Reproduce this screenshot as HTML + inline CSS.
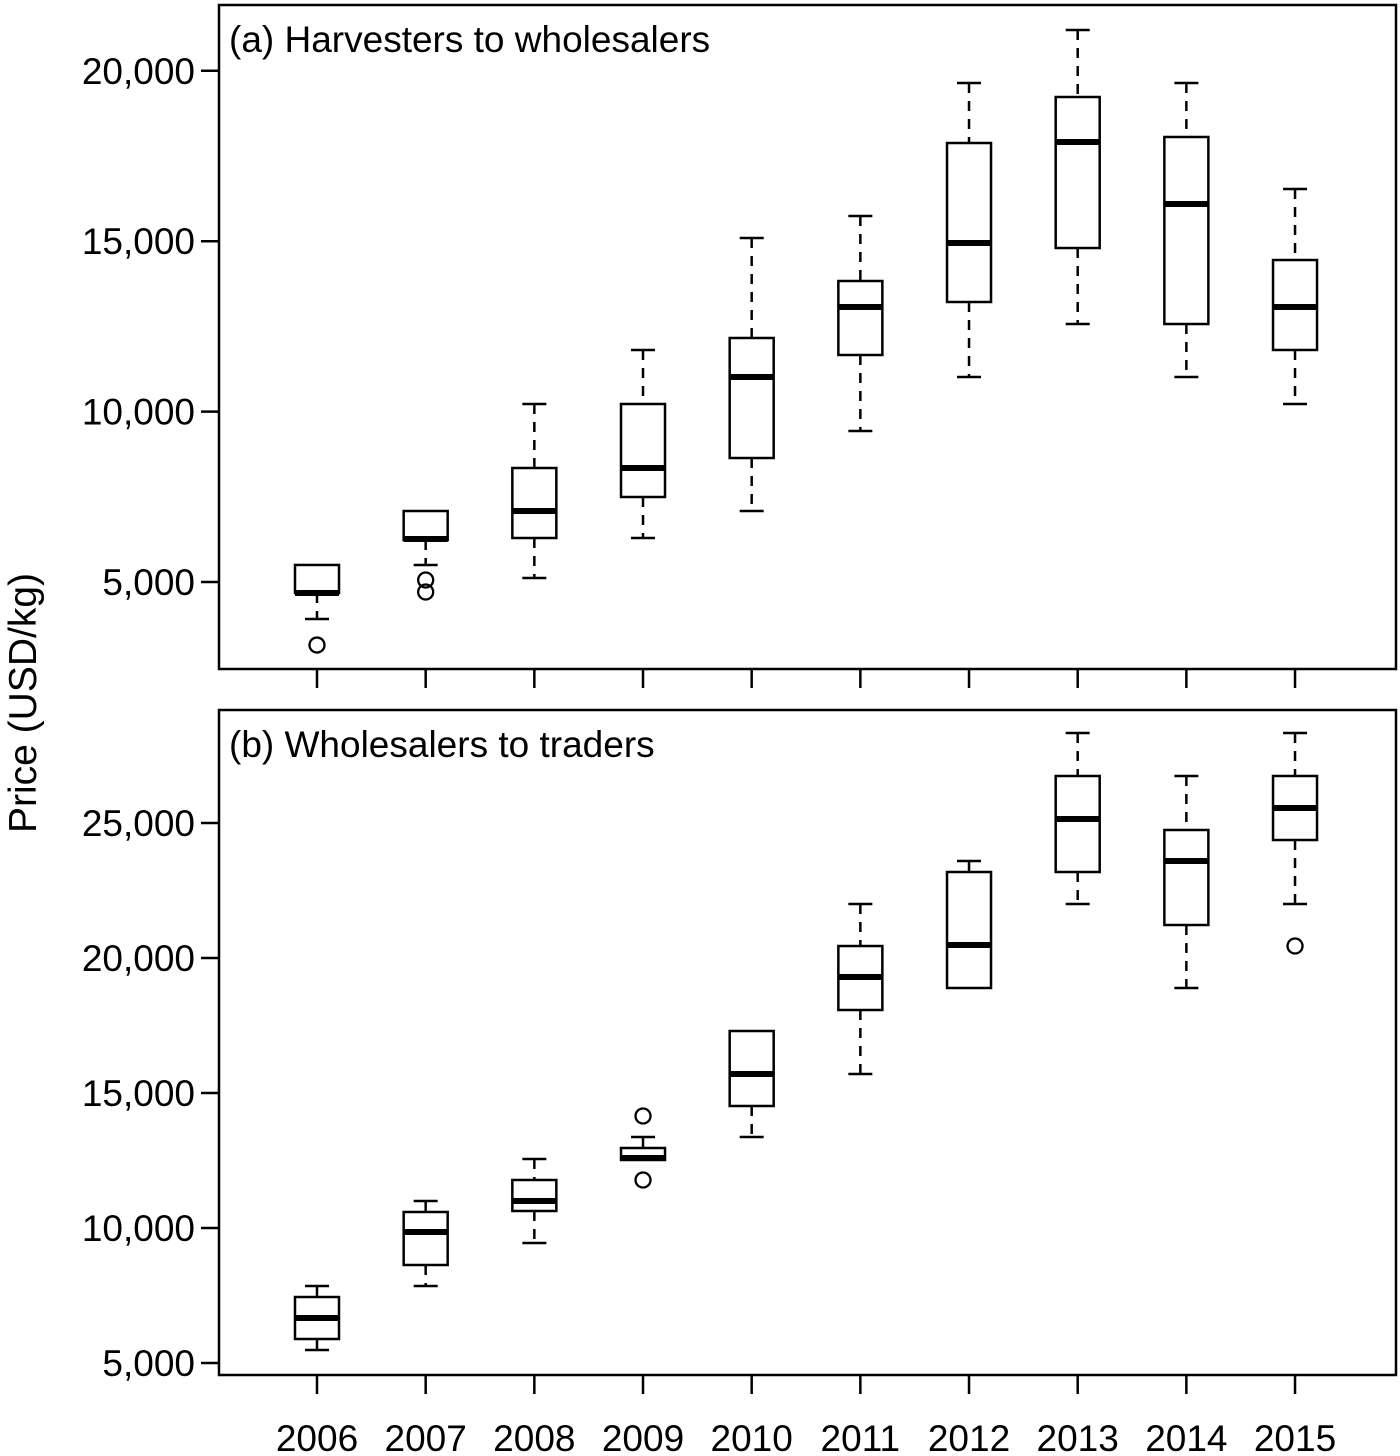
<!DOCTYPE html>
<html><head><meta charset="utf-8"><style>
body{margin:0;background:#fff}
svg{display:block;font-family:"Liberation Sans",Arial,sans-serif}
</style></head><body>
<svg id="chart" width="1400" height="1456" viewBox="0 0 1400 1456">
<text transform="translate(36,703) rotate(-90)" text-anchor="middle" font-size="39">Price (USD/kg)</text>
</svg>
<script>
const years=[2006,2007,2008,2009,2010,2011,2012,2013,2014,2015];
// panel a: [low whisker, q1, median, q3, high whisker]
const aLow=[3914,5500,5117,6291,7083,9431,11015,12570,11015,10223];
const aQ1=[4677,6232,6291,7494,8638,11661,13216,14800,12570,11808];
const aMed=[4677,6262,7083,8345,11015,13069,14947,17911,16092,13069];
const aQ3=[5500,7083,8345,10223,12160,13832,17881,19231,18058,14448];
const aHigh=[5500,7083,10223,11808,15094,15739,19642,21197,19642,16532];
const aOutYears=[2006,2007,2007];
const aOutVals=[3150,5059,4707];
const aTicks=[5000,10000,15000,20000];
// panel b
const bLow=[5481,7852,9444,12519,13370,15704,18889,22000,18889,22000];
const bQ1=[5889,8630,10630,12519,14519,18074,18889,23185,21222,24370];
const bMed=[6667,9852,11000,12593,15704,19296,20481,25148,23593,25556];
const bQ3=[7444,10593,11778,12963,17296,20444,23185,26741,24741,26741];
const bHigh=[7852,11000,12556,13370,17296,22000,23593,28333,26741,28333];
const bOutYears=[2009,2009,2015];
const bOutVals=[14148,11778,20444];
const bTicks=[5000,10000,15000,20000,25000];

const svg=document.getElementById('chart');
const NS='http://www.w3.org/2000/svg';
function mk(tag,attrs,parent){const e=document.createElementNS(NS,tag);for(const k in attrs)e.setAttribute(k,attrs[k]);(parent||svg).appendChild(e);return e;}
const xS=y=>317+(y-2006)*108.67;
const L=219,R=1396;

function panel(key,top,bottom,yS,low,q1,med,q3,high,oy,ov,ticks,label){
  const g=mk('g',{});
  
  
  const fr=mk('rect',{x:L,y:top,width:R-L,height:bottom-top,fill:'none',stroke:'#000','stroke-width':2.5},g);
  
  
  const t=mk('text',{x:229,y:top+47,'font-size':37},g);t.textContent=label;
  
  
  ticks.forEach(v=>{
    const y=yS(v);
    const tk=mk('line',{x1:L-18,x2:L,y1:y,y2:y,stroke:'#000','stroke-width':2.5},g);
    
    
    const tl=mk('text',{x:L-24,y:y+13,'text-anchor':'end','font-size':37},g);tl.textContent=v.toLocaleString('en-US');
    
    
  });
  years.forEach((yr,i)=>{
    const x=xS(yr);
    const tk=mk('line',{x1:x,x2:x,y1:bottom,y2:bottom+19,stroke:'#000','stroke-width':2.5},g);
    
    
    const bg=mk('g',{},g);
    
    
    const hw=22,cw=12;
    if(high[i]>q3[i]){
      mk('line',{x1:x,x2:x,y1:yS(high[i]),y2:yS(q3[i]),stroke:'#000','stroke-width':2.5,'stroke-dasharray':'10,8'},bg);
      mk('line',{x1:x-cw,x2:x+cw,y1:yS(high[i]),y2:yS(high[i]),stroke:'#000','stroke-width':2.5},bg);
    }
    if(low[i]<q1[i]){
      mk('line',{x1:x,x2:x,y1:yS(q1[i]),y2:yS(low[i]),stroke:'#000','stroke-width':2.5,'stroke-dasharray':'10,8'},bg);
      mk('line',{x1:x-cw,x2:x+cw,y1:yS(low[i]),y2:yS(low[i]),stroke:'#000','stroke-width':2.5},bg);
    }
    mk('rect',{x:x-hw,y:yS(q3[i]),width:2*hw,height:Math.max(0.5,yS(q1[i])-yS(q3[i])),fill:'#fff',stroke:'#000','stroke-width':2.5},bg);
    mk('line',{x1:x-hw,x2:x+hw,y1:yS(med[i]),y2:yS(med[i]),stroke:'#000','stroke-width':6},bg);
  });
  oy.forEach((yr,i)=>{
    const c=mk('circle',{cx:xS(yr),cy:yS(ov[i]),r:7.5,fill:'none',stroke:'#000','stroke-width':2.3},g);
    
    
  });
}
panel('a',5,669,v=>582-(v-5000)*0.03408,aLow,aQ1,aMed,aQ3,aHigh,aOutYears,aOutVals,aTicks,'(a) Harvesters to wholesalers');
panel('b',710,1375,v=>1363-(v-5000)*0.027,bLow,bQ1,bMed,bQ3,bHigh,bOutYears,bOutVals,bTicks,'(b) Wholesalers to traders');
years.forEach(yr=>{
  const t=mk('text',{x:xS(yr),y:1451,'text-anchor':'middle','font-size':37});t.textContent=yr;
  
  
});
</script>
</body></html>
